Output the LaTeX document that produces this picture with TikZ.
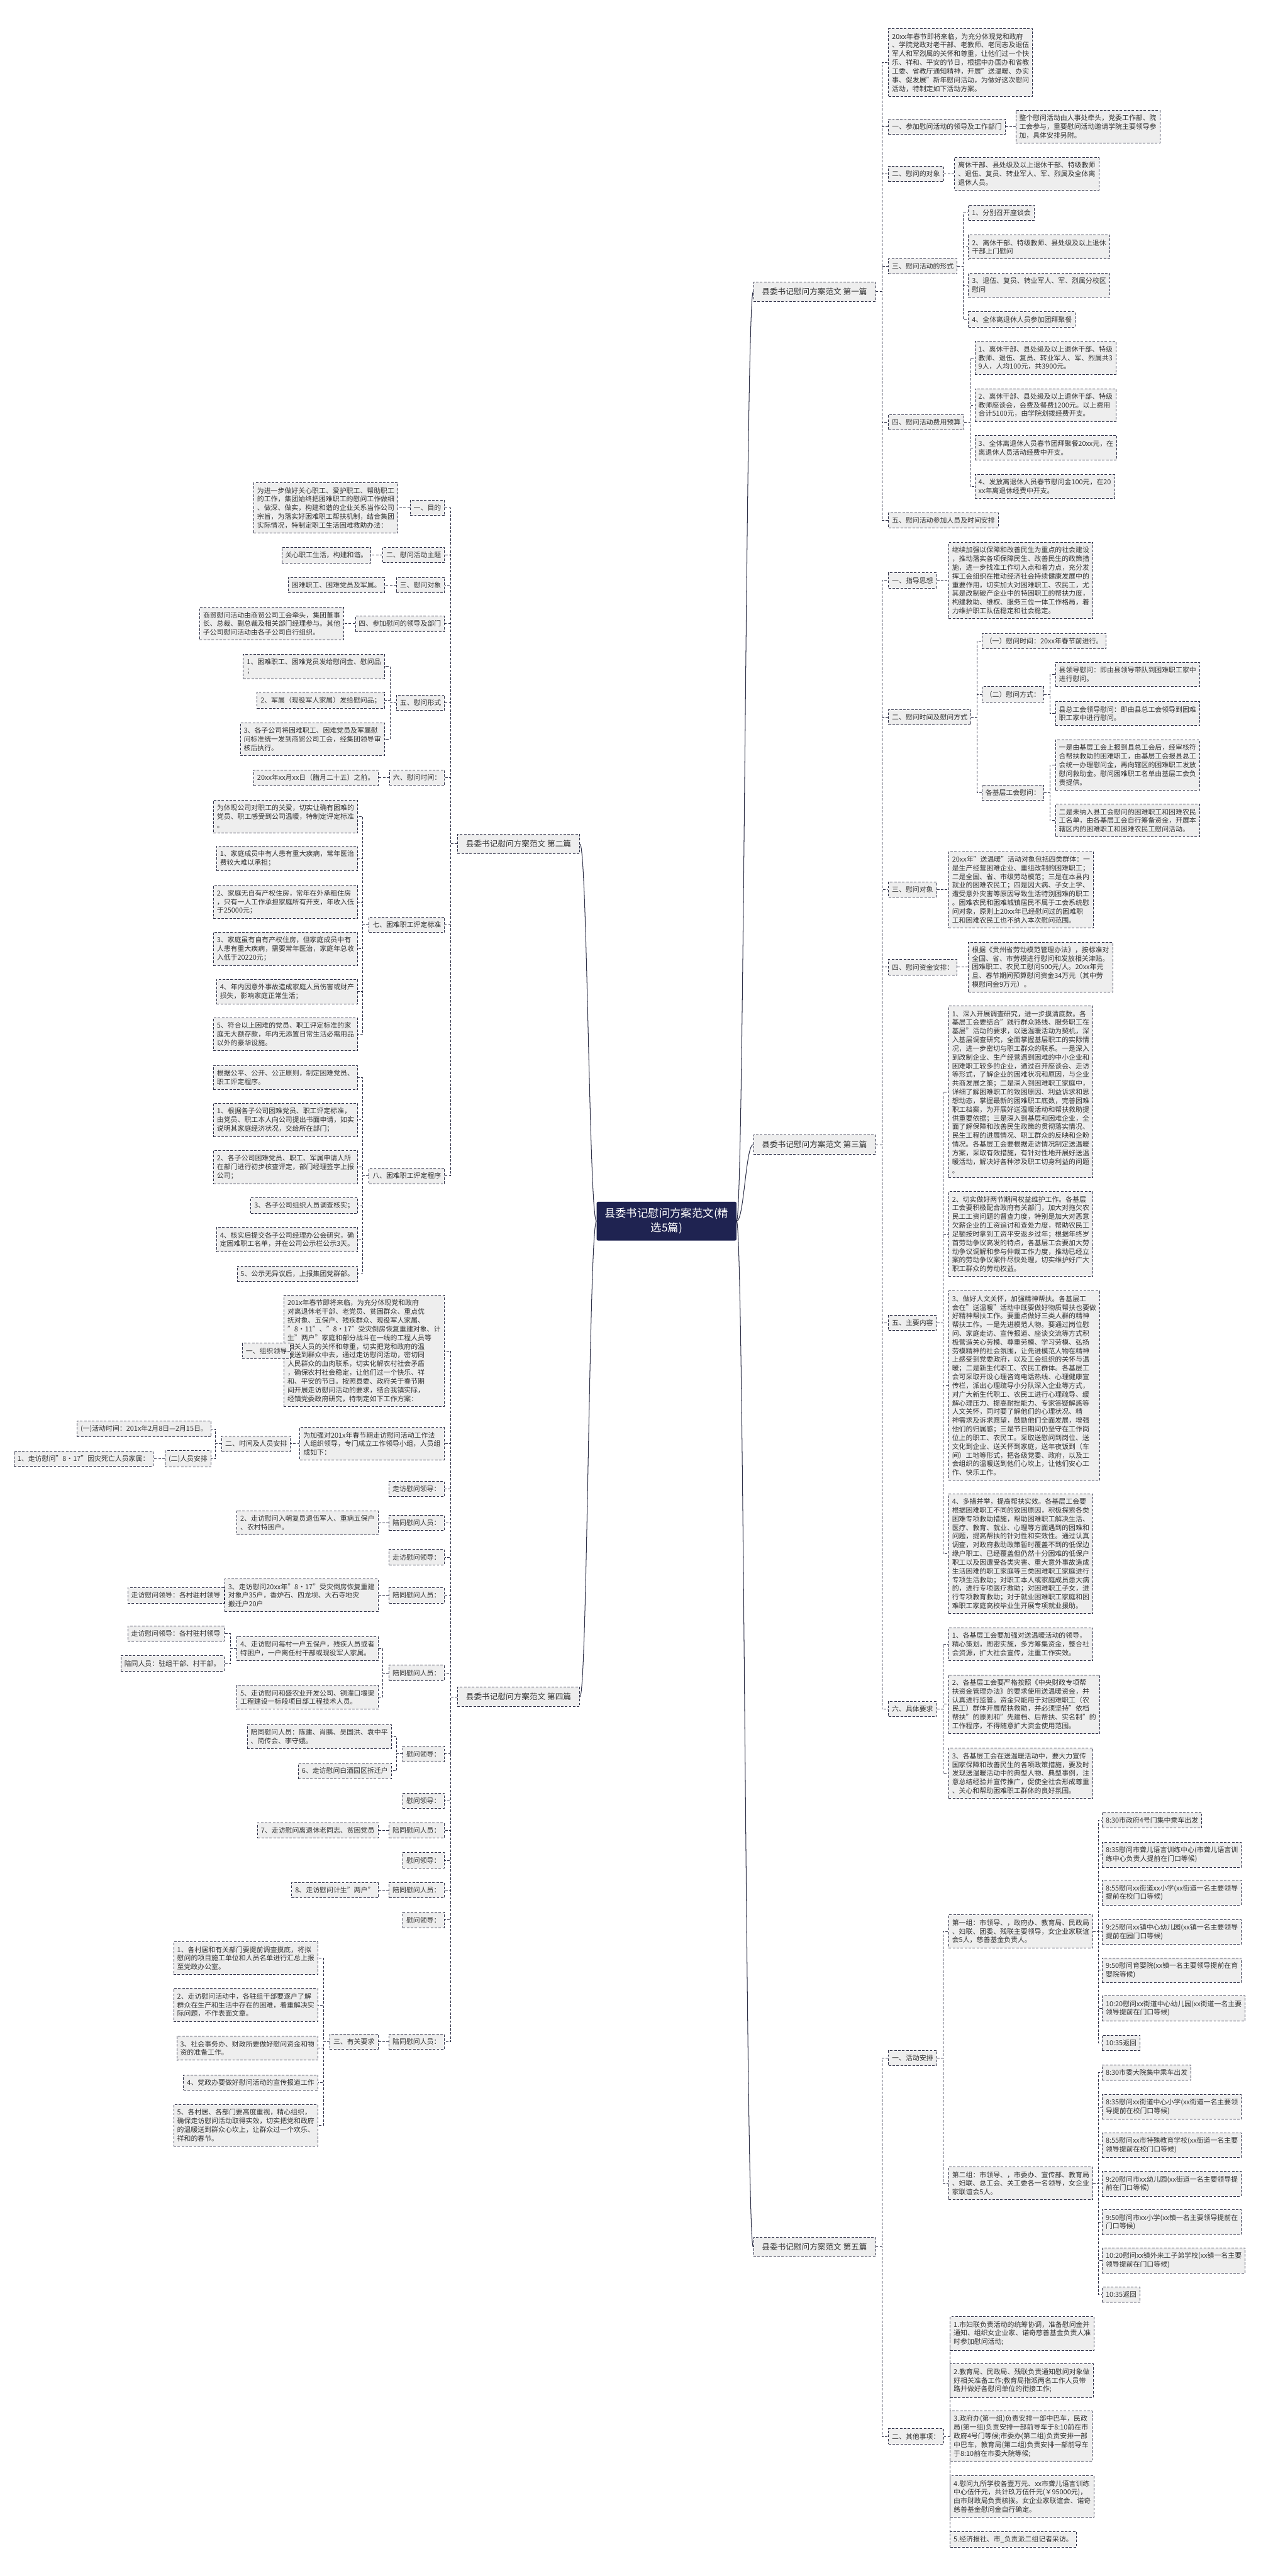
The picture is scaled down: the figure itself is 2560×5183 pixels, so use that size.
\documentclass[tikz,border=0pt]{standalone}
\usepackage{fontspec}
\setmainfont{Noto Sans CJK SC}
\usetikzlibrary{calc}
\definecolor{navy}{HTML}{1F2351}
\definecolor{boxfill}{HTML}{EEEEEE}
\definecolor{boxline}{HTML}{2E3047}
\definecolor{ink}{HTML}{333333}

\begin{document}
\begin{tikzpicture}[x=1pt, y=-1pt]
    % ================= 样式定义 =================
    \tikzset{
        % 中心主题:深蓝底白字
        rootbox/.style={fill=navy, text=white, rounded corners=3pt, align=center, font=\fontsize{22}{29}\selectfont, inner xsep=16pt, inner ysep=13pt},
        % 五篇的分支标题
        secbox/.style={draw=boxline, fill=boxfill, text=ink, dash pattern=on 5pt off 3pt, line width=1.1pt, font=\fontsize{16}{20}\selectfont, inner xsep=17pt, inner ysep=12pt},
        % 普通文字框:灰底虚线框
        leafbox/.style={draw=boxline, fill=boxfill, text=ink, dash pattern=on 5pt off 3pt, line width=1.1pt, align=left, font=\fontsize{13.8}{17.5}\selectfont, inner xsep=7pt, inner ysep=9pt},
        rleaf/.style={leafbox, anchor=west},
        lleaf/.style={leafbox, anchor=east},
        % 中心到分支的实线
        hubline/.style={draw=boxline, line width=1.3pt},
        % 树状虚线
        treeline/.style={draw=boxline, dash pattern=on 5pt off 3pt, line width=1.1pt}
    }

    \fill[white] (0,0) rectangle (2560,5183);

    % ================= 中心主题 =================
    \node[rootbox] (root) at (1341,2457) {县委书记慰问方案范文(精\\选5篇)};

    \node[secbox, anchor=east] (b1) at (1762,587) {县委书记慰问方案范文 第一篇};
    \node[secbox, anchor=west] (b2) at (920,1698) {县委书记慰问方案范文 第二篇};
    \node[secbox, anchor=east] (b3) at (1762,2303) {县委书记慰问方案范文 第三篇};
    \node[secbox, anchor=west] (b4) at (920,3414) {县委书记慰问方案范文 第四篇};
    \node[secbox, anchor=east] (b5) at (1762,4521) {县委书记慰问方案范文 第五篇};

    \foreach \b in {b1,b3,b5}
        \draw[hubline] (root.east) .. controls +(15,0) and +(-15,0) .. (\b.west);
    \foreach \b in {b2,b4}
        \draw[hubline] (root.west) .. controls +(-15,0) and +(15,0) .. (\b.east);

    % ================= 第一篇 =================
    \node[rleaf] (b1i) at (1787,126) {20xx年春节即将来临，为充分体现党和政府\\、学院党政对老干部、老教师、老同志及退伍\\军人和军烈属的关怀和尊重，让他们过一个快\\乐、祥和、平安的节日，根据中办国办和省教\\工委、省教厅通知精神，开展"送温暖、办实\\事、促发展"新年慰问活动，为做好这次慰问\\活动，特制定如下活动方案。};
    \node[rleaf] (b1a) at (1787,255) {一、参加慰问活动的领导及工作部门};
    \node[rleaf] (b1a1) at (2043,255) {整个慰问活动由人事处牵头，党委工作部、院\\工会参与，重要慰问活动邀请学院主要领导参\\加，具体安排另附。};
    \node[rleaf] (b1b) at (1787,350) {二、慰问的对象};
    \node[rleaf] (b1b1) at (1920,350) {离休干部、县处级及以上退休干部、特级教师\\、退伍、复员、转业军人、军、烈属及全体离\\退休人员。};
    \node[rleaf] (b1c) at (1787,536) {三、慰问活动的形式};
    \node[rleaf] (b1c1) at (1948,428) {1、分别召开座谈会};
    \node[rleaf] (b1c2) at (1948,497) {2、离休干部、特级教师、县处级及以上退休\\干部上门慰问};
    \node[rleaf] (b1c3) at (1948,574) {3、退伍、复员、转业军人、军、烈属分校区\\慰问};
    \node[rleaf] (b1c4) at (1948,643) {4、全体离退休人员参加团拜聚餐};
    \node[rleaf] (b1d) at (1787,850) {四、慰问活动费用预算};
    \node[rleaf] (b1d1) at (1961,720) {1、离休干部、县处级及以上退休干部、特级\\教师、退伍、复员、转业军人、军、烈属共3\\9人，人均100元，共3900元。};
    \node[rleaf] (b1d2) at (1961,815) {2、离休干部、县处级及以上退休干部、特级\\教师座谈会，会费及餐费1200元。以上费用\\合计5100元，由学院划拨经费开支。};
    \node[rleaf] (b1d3) at (1961,901) {3、全体离退休人员春节团拜聚餐20xx元，在\\离退休人员活动经费中开支。};
    \node[rleaf] (b1d4) at (1961,979) {4、发放离退休人员春节慰问金100元，在20\\xx年离退休经费中开支。};
    \node[rleaf] (b1e) at (1787,1047) {五、慰问活动参加人员及时间安排};

    \foreach \n in {b1i,b1a,b1b,b1c,b1d,b1e}
        \draw[treeline] (b1.east) -- ++(12,0) |- (\n.west);
    \draw[treeline] (b1a.east) -- (b1a1.west);
    \draw[treeline] (b1b.east) -- (b1b1.west);
    \foreach \n in {b1c1,b1c2,b1c3,b1c4}
        \draw[treeline] (b1c.east) -- ++(12,0) |- (\n.west);
    \foreach \n in {b1d1,b1d2,b1d3,b1d4}
        \draw[treeline] (b1d.east) -- ++(12,0) |- (\n.west);

    % ================= 第二篇 =================
    \node[lleaf] (b2a) at (895,1022) {一、目的};
    \node[lleaf] (b2a1) at (801,1022) {为进一步做好关心职工、爱护职工、帮助职工\\的工作，集团始终把困难职工的慰问工作做细\\、做深、做实，构建和谐的企业关系当作公司\\宗旨，为落实好困难职工帮扶机制，结合集团\\实际情况，特制定职工生活困难救助办法：};
    \node[lleaf] (b2b) at (895,1117) {二、慰问活动主题};
    \node[lleaf] (b2b1) at (747,1117) {关心职工生活，构建和谐。};
    \node[lleaf] (b2c) at (895,1177) {三、慰问对象};
    \node[lleaf] (b2c1) at (774,1177) {困难职工、困难党员及军属。};
    \node[lleaf] (b2d) at (895,1255) {四、参加慰问的领导及部门};
    \node[lleaf] (b2d1) at (692,1255) {商贸慰问活动由商贸公司工会牵头，集团董事\\长、总裁、副总裁及相关部门经理参与。其他\\子公司慰问活动由各子公司自行组织。};
    \node[lleaf] (b2e) at (895,1414) {五、慰问形式};
    \node[lleaf] (b2e1) at (774,1341) {1、困难职工、困难党员发给慰问金、慰问品\\；};
    \node[lleaf] (b2e2) at (774,1409) {2、军属（现役军人家属）发给慰问品；};
    \node[lleaf] (b2e3) at (774,1487) {3、各子公司将困难职工、困难党员及军属慰\\问标准统一发到商贸公司工会，经集团领导审\\核后执行。};
    \node[lleaf] (b2f) at (895,1565) {六、慰问时间：};
    \node[lleaf] (b2f1) at (761,1565) {20xx年xx月xx日（腊月二十五）之前。};
    \node[lleaf] (b2g) at (895,1861) {七、困难职工评定标准};
    \node[lleaf] (b2g0) at (720,1643) {为体现公司对职工的关爱，切实让确有困难的\\党员、职工感受到公司温暖，特制定评定标准\\。};
    \node[lleaf] (b2g1) at (720,1727) {1、家庭成员中有人患有重大疾病，常年医治\\费较大难以承担；};
    \node[lleaf] (b2g2) at (720,1815) {2、家庭无自有产权住房，常年在外承租住房\\，只有一人工作承担家庭所有开支，年收入低\\于25000元；};
    \node[lleaf] (b2g3) at (720,1909) {3、家庭虽有自有产权住房，但家庭成员中有\\人患有重大疾病，需要常年医治，家庭年总收\\入低于20220元；};
    \node[lleaf] (b2g4) at (720,1995) {4、年内因意外事故造成家庭人员伤害或财产\\损失，影响家庭正常生活；};
    \node[lleaf] (b2g5) at (720,2081) {5、符合以上困难的党员、职工评定标准的家\\庭无大额存款，年内无添置日常生活必需用品\\以外的豪华设施。};
    \node[lleaf] (b2h) at (895,2366) {八、困难职工评定程序};
    \node[lleaf] (b2h0) at (720,2168) {根据公平、公开、公正原则，制定困难党员、\\职工评定程序。};
    \node[lleaf] (b2h1) at (720,2253) {1、根据各子公司困难党员、职工评定标准，\\由党员、职工本人向公司提出书面申请，如实\\说明其家庭经济状况，交给所在部门；};
    \node[lleaf] (b2h2) at (720,2348) {2、各子公司困难党员、职工、军属申请人所\\在部门进行初步核查评定，部门经理签字上报\\公司；};
    \node[lleaf] (b2h3) at (720,2426) {3、各子公司组织人员调查核实；};
    \node[lleaf] (b2h4) at (720,2494) {4、核实后提交各子公司经理办公会研究，确\\定困难职工名单，并在公司公示栏公示3天。};
    \node[lleaf] (b2h5) at (720,2563) {5、公示无异议后，上报集团党群部。};

    \foreach \n in {b2a,b2b,b2c,b2d,b2e,b2f,b2g,b2h}
        \draw[treeline] (b2.west) -- ++(-14,0) |- (\n.east);
    \foreach \p in {b2a,b2b,b2c,b2d,b2f}
        \draw[treeline] (\p.west) -- (\p1.east);
    \foreach \n in {b2e1,b2e2,b2e3}
        \draw[treeline] (b2e.west) -- ++(-12,0) |- (\n.east);
    \foreach \n in {b2g0,b2g1,b2g2,b2g3,b2g4,b2g5}
        \draw[treeline] (b2g.west) -- ++(-12,0) |- (\n.east);
    \foreach \n in {b2h0,b2h1,b2h2,b2h3,b2h4,b2h5}
        \draw[treeline] (b2h.west) -- ++(-12,0) |- (\n.east);

    % ================= 第三篇 =================
    \node[rleaf] (b3a) at (1787,1168) {一、指导思想};
    \node[rleaf] (b3a1) at (1908,1168) {继续加强以保障和改善民生为重点的社会建设\\，推动落实各项保障民生、改善民生的政策措\\施，进一步找准工作切入点和着力点，充分发\\挥工会组织在推动经济社会持续健康发展中的\\重要作用，切实加大对困难职工、农民工，尤\\其是改制破产企业中的特困职工的帮扶力度，\\构建救助、维权、服务三位一体工作格局，着\\力维护职工队伍稳定和社会稳定。};
    \node[rleaf] (b3b) at (1787,1443) {二、慰问时间及慰问方式};
    \node[rleaf] (b3b1) at (1975,1290) {（一）慰问时间：20xx年春节前进行。};
    \node[rleaf] (b3b2) at (1975,1397) {（二）慰问方式：};
    \node[rleaf] (b3b2a) at (2123,1357) {县领导慰问：即由县领导带队到困难职工家中\\进行慰问。};
    \node[rleaf] (b3b2b) at (2123,1436) {县总工会领导慰问：即由县总工会领导到困难\\职工家中进行慰问。};
    \node[rleaf] (b3b3) at (1975,1595) {各基层工会慰问：};
    \node[rleaf] (b3b3a) at (2123,1539) {一是由基层工会上报到县总工会后，经审核符\\合帮扶救助的困难职工，由基层工会报县总工\\会统一办理慰问金，再向辖区的困难职工发放\\慰问救助金。慰问困难职工名单由基层工会负\\责提供。};
    \node[rleaf] (b3b3b) at (2123,1651) {二是未纳入县工会慰问的困难职工和困难农民\\工名单，由各基层工会自行筹备资金，开展本\\辖区内的困难职工和困难农民工慰问活动。};
    \node[rleaf] (b3c) at (1787,1790) {三、慰问对象};
    \node[rleaf] (b3c1) at (1908,1790) {20xx年"送温暖"活动对象包括四类群体：一\\是生产经营困难企业、重组改制的困难职工；\\二是全国、省、市级劳动模范；三是在本县内\\就业的困难农民工；四是因大病、子女上学、\\遭受意外灾害等原因导致生活特别困难的职工\\。困难农民和困难城镇居民不属于工会系统慰\\问对象，原则上20xx年已经慰问过的困难职\\工和困难农民工也不纳入本次慰问范围。};
    \node[rleaf] (b3d) at (1787,1946) {四、慰问资金安排：};
    \node[rleaf] (b3d1) at (1948,1946) {根据《贵州省劳动模范管理办法》，按标准对\\全国、省、市劳模进行慰问和发放相关津贴。\\困难职工、农民工慰问500元/人。20xx年元\\旦、春节期间预算慰问资金34万元（其中劳\\模慰问金9万元）。};
    \node[rleaf] (b3e) at (1787,2662) {五、主要内容};
    \node[rleaf] (b3e1) at (1908,2197) {1、深入开展调查研究，进一步摸清底数。各\\基层工会要结合"践行群众路线、服务职工在\\基层"活动的要求，以送温暖活动为契机，深\\入基层调查研究，全面掌握基层职工的实际情\\况，进一步密切与职工群众的联系。一是深入\\到改制企业、生产经营遇到困难的中小企业和\\困难职工较多的企业，通过召开座谈会、走访\\等形式，了解企业的困难状况和原因，与企业\\共商发展之策；二是深入到困难职工家庭中，\\详细了解困难职工的致困原因、利益诉求和思\\想动态，掌握最新的困难职工底数，完善困难\\职工档案，为开展好送温暖活动和帮扶救助提\\供重要依据；三是深入到基层和困难企业，全\\面了解保障和改善民生政策的贯彻落实情况、\\民生工程的进展情况、职工群众的反映和企盼\\情况。各基层工会要根据走访情况制定送温暖\\方案，采取有效措施，有针对性地开展好送温\\暖活动，解决好各种涉及职工切身利益的问题\\。};
    \node[rleaf] (b3e2) at (1908,2483) {2、切实做好两节期间权益维护工作。各基层\\工会要积极配合政府有关部门，加大对拖欠农\\民工工资问题的督查力度，特别是加大对恶意\\欠薪企业的工资追讨和查处力度，帮助农民工\\足额按时拿到工资平安返乡过年；根据年终岁\\首劳动争议高发的特点，各基层工会要加大劳\\动争议调解和参与仲裁工作力度，推动已经立\\案的劳动争议案件尽快处理，切实维护好广大\\职工群众的劳动权益。};
    \node[rleaf] (b3e3) at (1908,2788) {3、做好人文关怀，加强精神帮扶。各基层工\\会在"送温暖"活动中既要做好物质帮扶也要做\\好精神帮扶工作。要重点做好三类人群的精神\\帮扶工作。一是先进模范人物。要通过岗位慰\\问、家庭走访、宣传报道、座谈交流等方式积\\极营造关心劳模、尊重劳模、学习劳模、弘扬\\劳模精神的社会氛围，让先进模范人物在精神\\上感受到党委政府，以及工会组织的关怀与温\\暖；二是新生代职工、农民工群体。各基层工\\会可采取开设心理咨询电话热线、心理健康宣\\传栏，派出心理疏导小分队深入企业等方式，\\对广大新生代职工、农民工进行心理疏导、缓\\解心理压力、提高耐挫能力、专家答疑解惑等\\人文关怀，同时要了解他们的心理状况、精\\神需求及诉求愿望，鼓励他们全面发展，增强\\他们的归属感；三是节日期间仍坚守在工作岗\\位上的职工、农民工。采取送慰问到岗位、送\\文化到企业、送关怀到家庭，送年夜饭到（车\\间）工地等形式，把各级党委、政府，以及工\\会组织的温暖送到他们心坎上，让他们安心工\\作、快乐工作。};
    \node[rleaf] (b3e4) at (1908,3126) {4、多措并举，提高帮扶实效。各基层工会要\\根据困难职工不同的致困原因，积极探索各类\\困难专项救助措施，帮助困难职工解决生活、\\医疗、教育、就业、心理等方面遇到的困难和\\问题，提高帮扶的针对性和实效性。通过认真\\调查，对政府救助政策暂时覆盖不到的低保边\\缘户职工、已经覆盖但仍然十分困难的低保户\\职工以及因遭受各类灾害、重大意外事故造成\\生活困难的职工家庭等三类困难职工家庭进行\\专项生活救助；对职工本人或家庭成员患大病\\的，进行专项医疗救助；对困难职工子女，进\\行专项教育救助；对于就业困难职工家庭和困\\难职工家庭高校毕业生开展专项就业援助。};
    \node[rleaf] (b3f) at (1787,3439) {六、具体要求};
    \node[rleaf] (b3f1) at (1908,3308) {1、各基层工会要加强对送温暖活动的领导，\\精心策划，周密实施，多方筹集资金，整合社\\会资源，扩大社会宣传，注重工作实效。};
    \node[rleaf] (b3f2) at (1908,3429) {2、各基层工会要严格按照《中央财政专项帮\\扶资金管理办法》的要求使用送温暖资金，并\\认真进行监管。资金只能用于对困难职工（农\\民工）群体开展帮扶救助，并必须坚持"依档\\帮扶"的原则和"先建档、后帮扶、实名制"的\\工作程序，不得随意扩大资金使用范围。};
    \node[rleaf] (b3f3) at (1908,3568) {3、各基层工会在送温暖活动中，要大力宣传\\国家保障和改善民生的各项政策措施，要及时\\发现送温暖活动中的典型人物、典型事例，注\\意总结经验并宣传推广，促使全社会形成尊重\\、关心和帮助困难职工群体的良好氛围。};

    \foreach \n in {b3a,b3b,b3c,b3d,b3e,b3f}
        \draw[treeline] (b3.east) -- ++(12,0) |- (\n.west);
    \foreach \p in {b3a,b3c,b3d}
        \draw[treeline] (\p.east) -- (\p1.west);
    \foreach \n in {b3b1,b3b2,b3b3}
        \draw[treeline] (b3b.east) -- ++(12,0) |- (\n.west);
    \foreach \n in {b3b2a,b3b2b}
        \draw[treeline] (b3b2.east) -- ++(12,0) |- (\n.west);
    \foreach \n in {b3b3a,b3b3b}
        \draw[treeline] (b3b3.east) -- ++(12,0) |- (\n.west);
    \foreach \n in {b3e1,b3e2,b3e3,b3e4}
        \draw[treeline] (b3e.east) -- ++(12,0) |- (\n.west);
    \foreach \n in {b3f1,b3f2,b3f3}
        \draw[treeline] (b3f.east) -- ++(12,0) |- (\n.west);

    % ================= 第四篇 =================
    \node[lleaf] (b4a) at (894,2718) {201x年春节即将来临，为充分体现党和政府\\对离退休老干部、老党员、贫困群众、重点优\\抚对象、五保户、残疾群众、现役军人家属、\\"8·11"、"8·17"受灾倒房恢复重建对象、计\\生"两户"家庭和部分战斗在一线的工程人员等\\相关人员的关怀和尊重，切实把党和政府的温\\暖送到群众中去，通过走访慰问活动，密切同\\人民群众的血肉联系，切实化解农村社会矛盾\\，确保农村社会稳定，让他们过一个快乐、祥\\和、平安的节日。按照县委、政府关于春节期\\间开展走访慰问活动的要求，结合我镇实际，\\经镇党委政府研究，特制定如下工作方案：};
    \node[lleaf] (b4a1) at (585,2718) {一、组织领导};
    \node[lleaf] (b4b) at (894,2905) {为加强对201x年春节期走访慰问活动工作法\\人组织领导，专门成立工作领导小组，人员组\\成如下：};
    \node[lleaf] (b4b1) at (585,2905) {二、时间及人员安排};
    \node[lleaf] (b4b1a) at (425,2875) {(一)活动时间：201x年2月8日—2月15日。};
    \node[lleaf] (b4b1b) at (425,2935) {(二)人员安排};
    \node[lleaf] (b4b1c) at (308,2935) {1、走访慰问"8·17"因灾死亡人员家属：};
    \node[lleaf] (b4c) at (894,2996) {走访慰问领导：};
    \node[lleaf] (b4d) at (894,3064) {陪同慰问人员：};
    \node[lleaf] (b4d1) at (761,3064) {2、走访慰问入朝复员退伍军人、重病五保户\\、农村特困户。};
    \node[lleaf] (b4e) at (894,3133) {走访慰问领导：};
    \node[lleaf] (b4f) at (894,3210) {陪同慰问人员：};
    \node[lleaf] (b4f1) at (761,3210) {3、走访慰问20xx年"8·17"受灾倒房恢复重建\\对象户35户，香炉石、四龙坝、大石寺地灾\\搬迁户20户};
    \node[lleaf] (b4f2) at (451,3210) {走访慰问领导：各村驻村领导};
    \node[lleaf] (b4g) at (894,3366) {陪同慰问人员：};
    \node[lleaf] (b4g1) at (761,3317) {4、走访慰问每村一户五保户，残疾人员或者\\特困户，一户离任村干部或现役军人家属。};
    \node[lleaf] (b4g1a) at (451,3287) {走访慰问领导：各村驻村领导};
    \node[lleaf] (b4g1b) at (451,3347) {陪同人员：驻组干部、村干部。};
    \node[lleaf] (b4g2) at (761,3415) {5、走访慰问和盛农业开发公司、铜灌口堰渠\\工程建设一标段项目部工程技术人员。};
    \node[lleaf] (b4h) at (894,3529) {慰问领导：};
    \node[lleaf] (b4h1) at (788,3494) {陪同慰问人员：陈建、肖鹏、吴国洪、袁中平\\、简传会、李守娥。};
    \node[lleaf] (b4h2) at (788,3563) {6、走访慰问白酒园区拆迁户};
    \node[lleaf] (b4i) at (894,3623) {慰问领导：};
    \node[lleaf] (b4j) at (894,3683) {陪同慰问人员：};
    \node[lleaf] (b4j1) at (761,3683) {7、走访慰问离退休老同志、贫困党员};
    \node[lleaf] (b4k) at (894,3743) {慰问领导：};
    \node[lleaf] (b4l) at (894,3803) {陪同慰问人员：};
    \node[lleaf] (b4l1) at (761,3803) {8、走访慰问计生"两户"};
    \node[lleaf] (b4m) at (894,3863) {慰问领导：};
    \node[lleaf] (b4n) at (894,4108) {陪同慰问人员：};
    \node[lleaf] (b4n1) at (761,4108) {三、有关要求};
    \node[lleaf] (b4n1a) at (640,3940) {1、各村居和有关部门要提前调查摸底，将拟\\慰问的项目施工单位和人员名单进行汇总上报\\至党政办公室。};
    \node[lleaf] (b4n1b) at (640,4034) {2、走访慰问活动中，各驻组干部要逐户了解\\群众在生产和生活中存在的困难，着重解决实\\际问题，不作表面文章。};
    \node[lleaf] (b4n1c) at (640,4121) {3、社会事务办、财政所要做好慰问资金和物\\资的准备工作。};
    \node[lleaf] (b4n1d) at (640,4190) {4、党政办要做好慰问活动的宣传报道工作};
    \node[lleaf] (b4n1e) at (640,4276) {5、各村居、各部门要高度重视，精心组织，\\确保走访慰问活动取得实效，切实把党和政府\\的温暖送到群众心坎上，让群众过一个欢乐、\\祥和的春节。};

    \foreach \n in {b4a,b4b,b4c,b4d,b4e,b4f,b4g,b4h,b4i,b4j,b4k,b4l,b4m,b4n}
        \draw[treeline] (b4.west) -- ++(-13,0) |- (\n.east);
    \foreach \p in {b4a,b4b,b4d,b4f,b4j,b4l,b4n}
        \draw[treeline] (\p.west) -- (\p1.east);
    \draw[treeline] (b4f1.west) -- (b4f2.east);
    \foreach \n in {b4b1a,b4b1b}
        \draw[treeline] (b4b1.west) -- ++(-12,0) |- (\n.east);
    \draw[treeline] (b4b1b.west) -- (b4b1c.east);
    \foreach \n in {b4g1,b4g2}
        \draw[treeline] (b4g.west) -- ++(-12,0) |- (\n.east);
    \foreach \n in {b4g1a,b4g1b}
        \draw[treeline] (b4g1.west) -- ++(-12,0) |- (\n.east);
    \foreach \n in {b4h1,b4h2}
        \draw[treeline] (b4h.west) -- ++(-12,0) |- (\n.east);
    \foreach \n in {b4n1a,b4n1b,b4n1c,b4n1d,b4n1e}
        \draw[treeline] (b4n1.west) -- ++(-12,0) |- (\n.east);

    % ================= 第五篇 =================
    \node[rleaf] (b5a) at (1787,4141) {一、活动安排};
    \node[rleaf] (b5a1) at (1908,3886) {第一组：市领导、，政府办、教育局、民政局\\、妇联、团委、残联主要领导，女企业家联谊\\会5人，慈善基金负责人。};
    \node[rleaf] (t11) at (2217,3662) {8:30市政府4号门集中乘车出发};
    \node[rleaf] (t12) at (2217,3732) {8:35慰问市聋儿语言训练中心(市聋儿语言训\\练中心负责人提前在门口等候)};
    \node[rleaf] (t13) at (2217,3808) {8:55慰问xx街道xx小学(xx街道一名主要领导\\提前在校门口等候)};
    \node[rleaf] (t14) at (2217,3887) {9:25慰问xx镇中心幼儿园(xx镇一名主要领导\\提前在园门口等候)};
    \node[rleaf] (t15) at (2217,3964) {9:50慰问育婴院(xx镇一名主要领导提前在育\\婴院等候)};
    \node[rleaf] (t16) at (2217,4041) {10:20慰问xx街道中心幼儿园(xx街道一名主要\\领导提前在门口等候)};
    \node[rleaf] (t17) at (2217,4110) {10:35返回};
    \node[rleaf] (b5a2) at (1908,4393) {第二组：市领导、，市委办、宣传部、教育局\\、妇联、总工会、关工委各一名领导，女企业\\家联谊会5人。};
    \node[rleaf] (t21) at (2217,4170) {8:30市委大院集中乘车出发};
    \node[rleaf] (t22) at (2217,4239) {8:35慰问xx街道中心小学(xx街道一名主要领\\导提前在校门口等候)};
    \node[rleaf] (t23) at (2217,4316) {8:55慰问xx市特殊教育学校(xx街道一名主要\\领导提前在校门口等候)};
    \node[rleaf] (t24) at (2217,4394) {9:20慰问市xx幼儿园(xx街道一名主要领导提\\前在门口等候)};
    \node[rleaf] (t25) at (2217,4471) {9:50慰问市xx小学(xx镇一名主要领导提前在\\门口等候)};
    \node[rleaf] (t26) at (2217,4548) {10:20慰问xx镇外来工子弟学校(xx镇一名主要\\领导提前在门口等候)};
    \node[rleaf] (t27) at (2217,4617) {10:35返回};
    \node[rleaf] (b5b) at (1787,4902) {二、其他事项：};
    \node[rleaf] (b5b1) at (1911,4695) {1.市妇联负责活动的统筹协调，准备慰问金并\\通知、组织女企业家、诺奇慈善基金负责人准\\时参加慰问活动;};
    \node[rleaf] (b5b2) at (1911,4790) {2.教育局、民政局、残联负责通知慰问对象做\\好相关准备工作;教育局指派两名工作人员带\\路并做好各慰问单位的衔接工作;};
    \node[rleaf] (b5b3) at (1911,4902) {3.政府办(第一组)负责安排一部中巴车，民政\\局(第一组)负责安排一部前导车于8:10前在市\\政府4号门等候;市委办(第二组)负责安排一部\\中巴车，教育局(第二组)负责安排一部前导车\\于8:10前在市委大院等候;};
    \node[rleaf] (b5b4) at (1911,5023) {4.慰问九所学校各壹万元、xx市聋儿语言训练\\中心伍仟元，共计玖万伍仟元(￥95000元)，\\由市财政局负责核拨。女企业家联谊会、诺奇\\慈善基金慰问金自行确定。};
    \node[rleaf] (b5b5) at (1911,5109) {5.经济报社、市\_负责派二组记者采访。};

    \foreach \n in {b5a,b5b}
        \draw[treeline] (b5.east) -- ++(12,0) |- (\n.west);
    \foreach \n in {b5a1,b5a2}
        \draw[treeline] (b5a.east) -- ++(12,0) |- (\n.west);
    \foreach \i in {1,...,7} {
        \draw[treeline] (b5a1.east) -- ++(11,0) |- (t1\i.west);
        \draw[treeline] (b5a2.east) -- ++(11,0) |- (t2\i.west);
    }
    \foreach \n in {b5b1,b5b2,b5b3,b5b4,b5b5}
        \draw[treeline] (b5b.east) -- ++(12,0) |- (\n.west);

\end{tikzpicture}
\end{document}
